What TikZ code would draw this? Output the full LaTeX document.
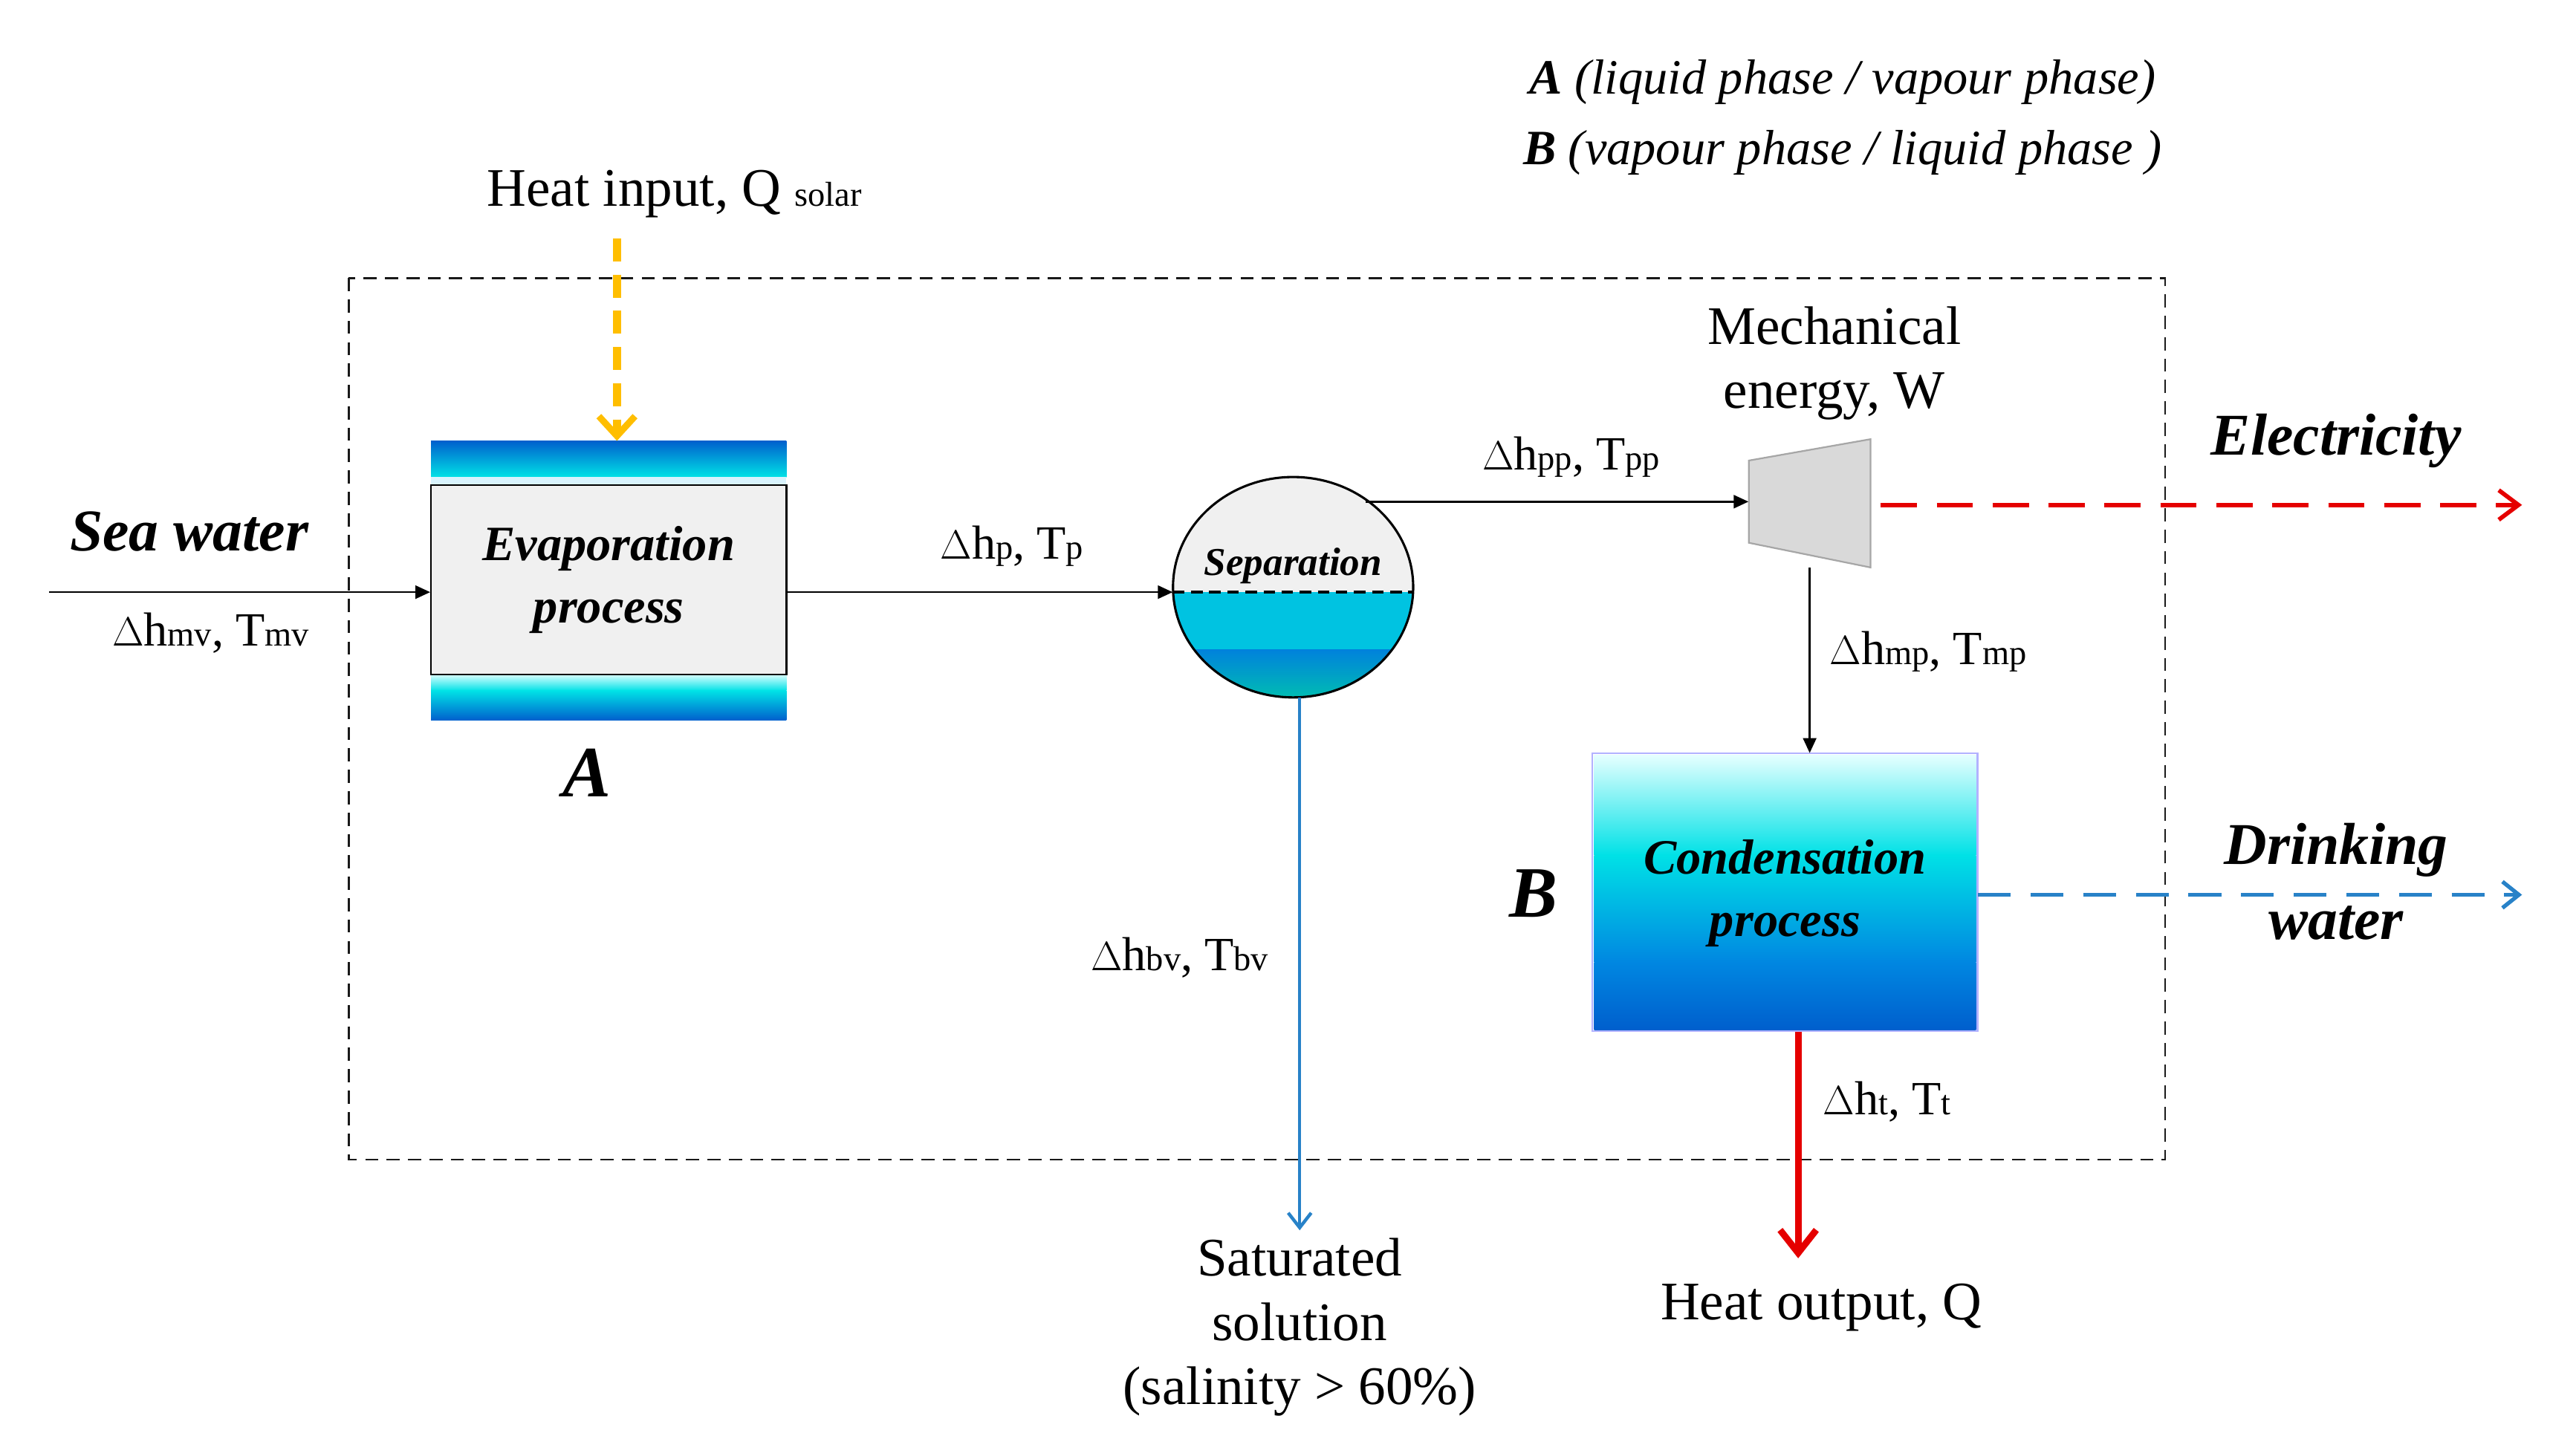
\documentclass[tikz,border=0pt]{standalone}
\usepackage{fontspec}
\setmainfont{Liberation Serif}
\usetikzlibrary{arrows.meta,shapes.geometric}
\newcommand{\fs}[1]{\fontsize{#1}{#1}\selectfont}
\newcommand{\sbt}[1]{{\fs{21}#1}}
\definecolor{dblue}{RGB}{0,95,205}
\definecolor{mcyan}{RGB}{0,225,230}
\definecolor{lineblue}{RGB}{40,130,200}
\definecolor{yel}{RGB}{255,190,0}
\definecolor{liq}{RGB}{0,195,225}
\definecolor{liqb}{RGB}{0,130,220}
\definecolor{liqg}{RGB}{0,200,170}
\definecolor{midb}{RGB}{0,135,225}
\begin{document}
\begin{tikzpicture}[x=1pt,y=-1pt,
  lab/.style={font=\fs{29}, inner sep=0pt},
  big/.style={font=\fs{36}\bfseries\itshape, inner sep=0pt},
  flow/.style={draw=black, line width=1.2pt, -{Triangle[length=9pt,width=8pt]}}]
\useasboundingbox (0,0) rectangle (1550,885);
% boundary
\draw[line width=1.2pt, gray!20!black, dash pattern=on 8pt off 5pt] (212,169) rectangle (1316,705);
% legend
\node[font=\fs{30}\itshape, inner sep=0pt] (legA) at (1120,50) {\textbf{A} (liquid phase / vapour phase)};
\node[font=\fs{30}\itshape, inner sep=0pt] (legB) at (1120,93) {\textbf{B} (vapour phase / liquid phase )};
% heat input
\node[font=\fs{33}, inner sep=0pt] (heat) at (410,118) {Heat input, Q \sbt{solar}};
% evaporation box
\shade[top color=dblue, bottom color=mcyan] (262,268) rectangle (478,290);
\fill[cyan!15] (262,290) rectangle (478,295);
\shade[top color=cyan!15, bottom color=mcyan] (262,410) rectangle (478,420);
\shade[top color=mcyan, bottom color=dblue] (262,420) rectangle (478,438);
\node[draw=black, line width=1pt, fill=gray!12, minimum width=216pt, minimum height=115pt, inner sep=0pt, align=center, font=\fs{30}\bfseries\itshape] (evap) at (370,352.5) {Evaporation\\[8pt]process};
\coordinate (evapTop) at (375,268);
\coordinate (heatTop) at (375,145);
\node[font=\fs{44}\bfseries\itshape, inner sep=0pt] (A) at (357,470) {A};
\draw[line width=5pt, yel, dash pattern=on 14pt off 8pt, -{Straight Barb[length=12pt,width=22pt,line width=4pt]}] (heatTop) -- (evapTop);
% sea water
\node[big] (sea) at (115,323) {Sea water};
\coordinate (seaIn) at (30,360);
\draw[flow] (seaIn) -- (evap.west |- seaIn);
\node[lab] (lmv) at (128,385) {$\Delta$h\sbt{mv}, T\sbt{mv}};
% separator
\node[ellipse, minimum width=146pt, minimum height=134pt, inner sep=0pt] (sep) at (786,357) {};
\begin{scope}
\clip (786,357) ellipse (73 and 67);
\fill[gray!12] (700,280) rectangle (870,360);
\fill[liq] (700,360) rectangle (870,395);
\shade[top color=liqb, bottom color=liqg] (700,395) rectangle (870,430);
\end{scope}
\draw[line width=1.4pt] (786,357) ellipse (73 and 67);
\draw[line width=2pt, dash pattern=on 7pt off 4pt] (713,360) -- (859,360);
\node[font=\fs{24}\bfseries\itshape, inner sep=0pt] (septxt) at (786,344) {Separation};
\draw[flow] (evap.east |- seaIn) -- (sep.west |- seaIn);
\node[lab] (lp) at (615,332) {$\Delta$h\sbt{p}, T\sbt{p}};
% turbine
\draw[draw=gray!70, fill=gray!30, line width=1pt] (1063,280) -- (1137,267) -- (1137,345) -- (1063,330) -- cycle;
\node[minimum width=74pt, minimum height=78pt, inner sep=0pt] (turb) at (1100,306) {};
\coordinate (sepOut) at (830,305);
\draw[flow] (sepOut) -- (turb.west |- sepOut);
\node[lab] (lpp) at (955,278) {$\Delta$h\sbt{pp}, T\sbt{pp}};
\node[font=\fs{33}, inner sep=0pt, align=center] (mech) at (1115,221) {Mechanical\\[6pt]energy, W};
% electricity
\coordinate (elecEnd) at (1533,307);
\draw[red!90!black, line width=2.6pt, dash pattern=on 22pt off 12pt, -{Straight Barb[length=12pt,width=18pt]}] (turb.east |- elecEnd) ++(6,0) -- (elecEnd);
\node[big] (elec) at (1420,268) {Electricity};
% condensation
\node[minimum width=234pt, minimum height=169pt, inner sep=0pt] (cond) at (1085,542.5) {};
\shade[top color=cyan!10, bottom color=mcyan] (969,459) rectangle (1201,520);
\shade[top color=mcyan, bottom color=midb] (969,520) rectangle (1201,585);
\shade[top color=midb, bottom color=dblue] (969,585) rectangle (1201,626);
\draw[blue!30, line width=1pt] (968,458) rectangle (1202,627);
\node[font=\fs{30}\bfseries\itshape, align=center, inner sep=0pt] (condtxt) at (1085,543) {Condensation\\[8pt]process};
\node[font=\fs{44}\bfseries\itshape, inner sep=0pt] (B) at (932,543) {B};
\draw[flow] (turb.south) -- (turb.south |- cond.north);
\node[lab, anchor=west] (lmp) at (1112,396) {$\Delta$h\sbt{mp}, T\sbt{mp}};
% drinking water
\coordinate (dwEnd) at (1533,544);
\draw[lineblue, line width=2.4pt, dash pattern=on 20pt off 12pt, -{Straight Barb[length=10pt,width=16pt]}] (cond.east |- dwEnd) -- (dwEnd);
\node[big, align=center] (dw) at (1420,536) {Drinking\\[10pt]water};
% heat output
\node[font=\fs{33}, inner sep=0pt] (hout) at (1107,795) {Heat output, Q};
\coordinate (houtTop) at (1093,765);
\draw[red!90!black, line width=4pt, -{Straight Barb[length=14pt,width=22pt]}] (houtTop |- cond.south) -- (houtTop);
\node[lab, anchor=west] (lt) at (1108,670) {$\Delta$h\sbt{t}, T\sbt{t}};
% saturated solution
\node[font=\fs{33}, inner sep=0pt, align=center] (sat) at (790,807) {Saturated\\[6pt]solution\\[6pt](salinity > 60\%)};
\coordinate (satTop) at (790,748);
\draw[lineblue, line width=2pt, -{Straight Barb[length=9pt,width=14pt]}] (sep.south -| satTop) -- (satTop);
\node[lab] (lbv) at (717,582) {$\Delta$h\sbt{bv}, T\sbt{bv}};
\end{tikzpicture}
\end{document}
